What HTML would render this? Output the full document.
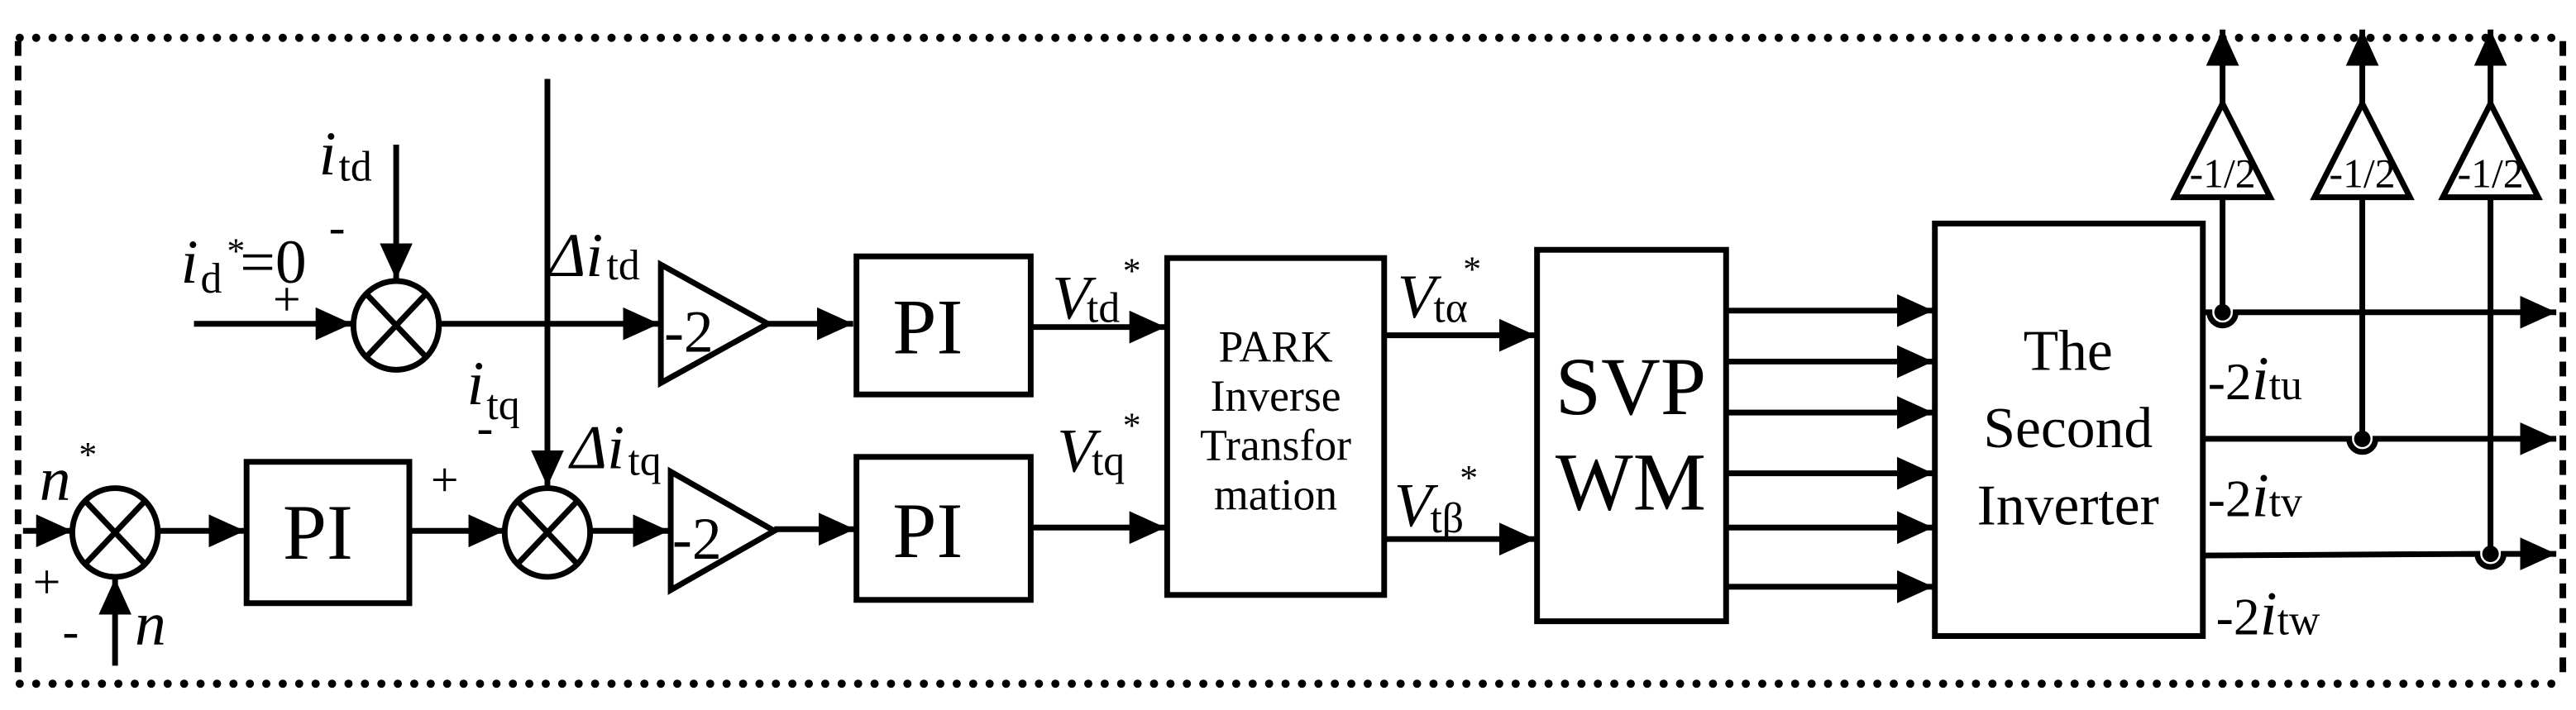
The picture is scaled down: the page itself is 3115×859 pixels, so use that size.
<!DOCTYPE html>
<html><head><meta charset="utf-8"><style>
html,body{margin:0;padding:0;background:#fff;}
svg{display:block;}
text{font-family:"Liberation Serif",serif;fill:#000;}
</style></head><body>
<svg width="3115" height="859" viewBox="0 0 1567 432" preserveAspectRatio="none" xmlns="http://www.w3.org/2000/svg">
<defs>
<marker id="a" markerUnits="userSpaceOnUse" markerWidth="24" markerHeight="20" refX="22" refY="10" orient="auto">
<path d="M0,0 L22,10 L0,20 Z" fill="#000"/></marker>
</defs>
<g fill="none" stroke="#000">
<line x1="12" y1="23" x2="1558" y2="23" stroke-width="5" stroke-linecap="round" stroke-dasharray="0 10"/>
<line x1="12" y1="416" x2="1558" y2="416" stroke-width="5" stroke-linecap="round" stroke-dasharray="0 10"/>
<line x1="11" y1="25" x2="11" y2="414" stroke-width="4" stroke-dasharray="9 6"/>
<line x1="1559" y1="25" x2="1559" y2="414" stroke-width="4" stroke-dasharray="9 6"/>
<g stroke-width="3.5">
<line x1="118" y1="197" x2="214" y2="197" marker-end="url(#a)"/>
<ellipse cx="241" cy="198" rx="26" ry="27"/>
<line x1="223" y1="179" x2="259" y2="217"/><line x1="259" y1="179" x2="223" y2="217"/>
<line x1="241" y1="88" x2="241" y2="170" marker-end="url(#a)"/>
<line x1="267" y1="197" x2="401" y2="197" marker-end="url(#a)"/>
<path d="M402,161 L467,197 L402,233 Z"/>
<line x1="467" y1="197" x2="519" y2="197" marker-end="url(#a)"/>
<rect x="521" y="156" width="106" height="84"/>
<line x1="627" y1="199" x2="709" y2="199" marker-end="url(#a)"/>
<line x1="333" y1="48" x2="333" y2="296" marker-end="url(#a)"/>
<line x1="14" y1="323" x2="44" y2="323" marker-end="url(#a)"/>
<ellipse cx="70" cy="324" rx="26" ry="27"/>
<line x1="52" y1="305" x2="88" y2="343"/><line x1="88" y1="305" x2="52" y2="343"/>
<line x1="70" y1="405" x2="70" y2="352" marker-end="url(#a)"/>
<line x1="96" y1="323" x2="149" y2="323" marker-end="url(#a)"/>
<rect x="150" y="281" width="99" height="86"/>
<line x1="249" y1="323" x2="307" y2="323" marker-end="url(#a)"/>
<ellipse cx="333" cy="324" rx="26" ry="27"/>
<line x1="315" y1="305" x2="351" y2="343"/><line x1="351" y1="305" x2="315" y2="343"/>
<line x1="359" y1="323" x2="407" y2="323" marker-end="url(#a)"/>
<path d="M408,287 L471,323 L408,359 Z"/>
<line x1="471" y1="322" x2="520" y2="322" marker-end="url(#a)"/>
<rect x="521" y="278" width="106" height="87"/>
<line x1="627" y1="321" x2="709" y2="321" marker-end="url(#a)"/>
<rect x="710" y="157" width="132" height="205"/>
<line x1="842" y1="204" x2="934" y2="204" marker-end="url(#a)"/>
<line x1="842" y1="328" x2="934" y2="328" marker-end="url(#a)"/>
<rect x="935" y="152" width="115" height="226"/>
<line x1="1050" y1="189" x2="1176" y2="189" marker-end="url(#a)"/>
<line x1="1050" y1="220" x2="1176" y2="220" marker-end="url(#a)"/>
<line x1="1050" y1="251" x2="1176" y2="251" marker-end="url(#a)"/>
<line x1="1050" y1="288" x2="1176" y2="288" marker-end="url(#a)"/>
<line x1="1050" y1="321" x2="1176" y2="321" marker-end="url(#a)"/>
<line x1="1050" y1="357" x2="1176" y2="357" marker-end="url(#a)"/>
<rect x="1177" y="136" width="163" height="251"/>
<path d="M1340,190 L1344,190 A8,8 0 0 0 1360,190 L1555,190" marker-end="url(#a)"/>
<path d="M1340,267 L1429,267 A8,8 0 0 0 1445,267 L1555,267" marker-end="url(#a)"/>
<path d="M1340,338 L1507,337 A8,8 0 0 0 1523,337 L1555,337" marker-end="url(#a)"/>
<path d="M1323,120 L1352,63 L1381,120 Z"/>
<path d="M1408,120 L1437,63 L1466,120 Z"/>
<path d="M1486,120 L1515,63 L1544,120 Z"/>
<line x1="1352" y1="120" x2="1352" y2="190"/>
<line x1="1437" y1="120" x2="1437" y2="267"/>
<line x1="1515" y1="120" x2="1515" y2="337"/>
<line x1="1352" y1="63" x2="1352" y2="18" marker-end="url(#a)"/>
<line x1="1437" y1="63" x2="1437" y2="18" marker-end="url(#a)"/>
<line x1="1515" y1="63" x2="1515" y2="18" marker-end="url(#a)"/>
</g>
</g>
<g fill="#000">
<circle cx="1352" cy="190" r="5"/><circle cx="1437" cy="267" r="5"/><circle cx="1515" cy="337" r="5"/>
</g>
<g font-size="38">
<text x="110" y="172" font-style="italic">i</text><text x="122" y="178" font-size="26">d</text><text x="138" y="160" font-size="22">*</text><text x="146" y="172">=0</text>
<text x="166" y="192" font-size="30">+</text>
<text x="194" y="106" font-style="italic">i</text><text x="206" y="110" font-size="26">td</text>
<text x="200" y="148" font-size="30">-</text>
<text x="334" y="168" font-style="italic">Δi</text><text x="369" y="170" font-size="26">td</text>
<text x="284" y="246" font-style="italic">i</text><text x="296" y="255" font-size="26">tq</text>
<text x="290" y="270" font-size="30">-</text>
<text x="347" y="285" font-style="italic">Δi</text><text x="382" y="289" font-size="26">tq</text>
<text x="262" y="302" font-size="30">+</text>
<text x="24" y="304" font-style="italic">n</text><text x="48" y="284" font-size="22">*</text>
<text x="20" y="364" font-size="30">+</text>
<text x="38" y="394" font-size="30">-</text>
<text x="82" y="392" font-style="italic">n</text>
<text x="404" y="214" font-size="36">-2</text>
<text x="409" y="340" font-size="36">-2</text>
<text x="543" y="215" font-size="48">PI</text>
<text x="543" y="339" font-size="48">PI</text>
<text x="172" y="340" font-size="48">PI</text>
<text x="640" y="194" font-style="italic">V</text><text x="661" y="196" font-size="26">td</text><text x="683" y="172" font-size="22">*</text>
<text x="643" y="287" font-style="italic">V</text><text x="664" y="289" font-size="26">tq</text><text x="683" y="266" font-size="22">*</text>
<text x="850" y="193" font-style="italic">V</text><text x="872" y="196" font-size="26">tα</text><text x="890" y="171" font-size="22">*</text>
<text x="848" y="320" font-style="italic">V</text><text x="870" y="324" font-size="26">tβ</text><text x="888" y="298" font-size="22">*</text>
<g font-size="27" text-anchor="middle">
<text x="776" y="220">PARK</text><text x="776" y="250">Inverse</text><text x="776" y="280">Transfor</text><text x="776" y="310">mation</text>
</g>
<g font-size="50" text-anchor="middle"><text x="992" y="252">SVP</text><text x="992" y="310">WM</text></g>
<g font-size="35" text-anchor="middle"><text x="1258" y="225">The</text><text x="1258" y="272">Second</text><text x="1258" y="319">Inverter</text></g>
<g font-size="25" text-anchor="middle"><text x="1352" y="114">-1/2</text><text x="1437" y="114">-1/2</text><text x="1515" y="114">-1/2</text></g>
<text x="1343" y="243" font-size="32">-2<tspan font-style="italic" font-size="38">i</tspan><tspan font-size="26">tu</tspan></text>
<text x="1343" y="314" font-size="32">-2<tspan font-style="italic" font-size="38">i</tspan><tspan font-size="26">tv</tspan></text>
<text x="1348" y="386" font-size="32">-2<tspan font-style="italic" font-size="38">i</tspan><tspan font-size="26">tw</tspan></text>
</g>
</svg>
</body></html>
